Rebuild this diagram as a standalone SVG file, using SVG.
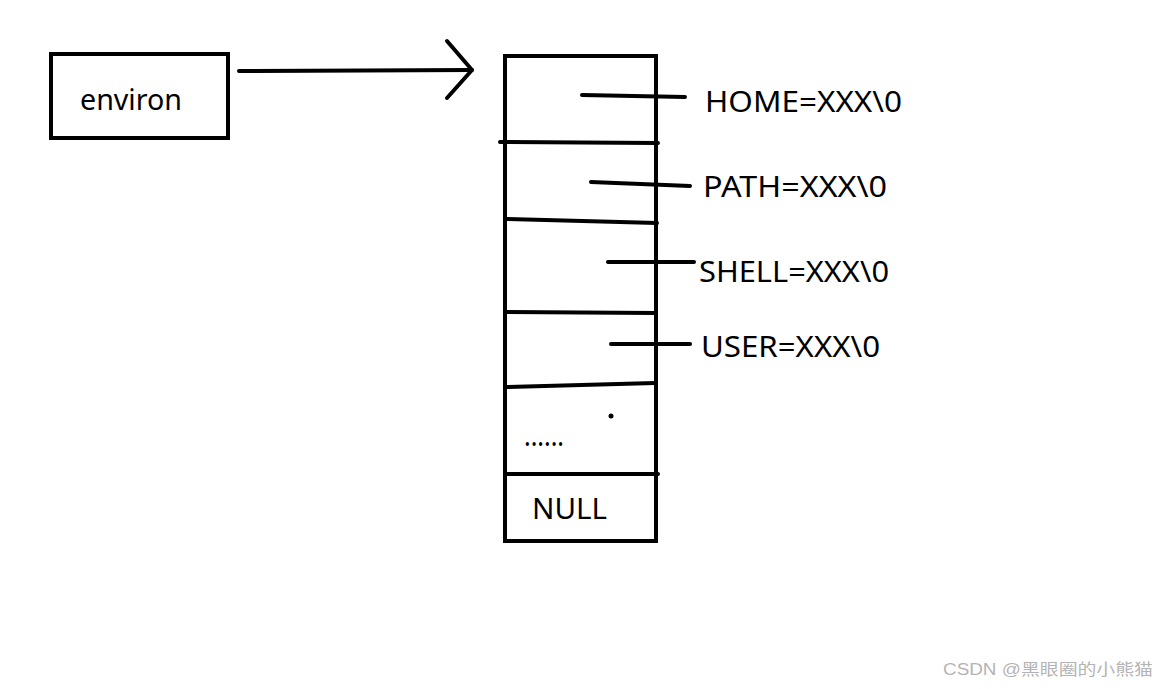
<svg xmlns="http://www.w3.org/2000/svg" width="1169" height="689" viewBox="0 0 1169 689">
<style>
.ln{stroke:#000;stroke-width:4;fill:none;stroke-linecap:round;stroke-linejoin:round}
.bx{stroke:#000;stroke-width:4;fill:#fff}
.t{font-family:"Noto Sans","Open Sans","Liberation Sans",sans-serif;font-size:29px;fill:#000}
.wm{font-family:"Liberation Sans","Noto Sans CJK SC",sans-serif;font-size:16px;fill:#b4b4b4}
</style>
<rect width="1169" height="689" fill="#fff"/>
<g id="environ">
<rect class="bx" x="51" y="54" width="177" height="84"/>
<text class="t" x="80" y="110" textLength="102" lengthAdjust="spacingAndGlyphs">environ</text>
</g>
<g id="array">
<rect class="bx" x="505" y="56" width="151" height="485"/>
<path class="ln" d="M500 142 L658 143"/>
<path class="ln" d="M506 219 L657 223"/>
<path class="ln" d="M506 312 L656 313"/>
<path class="ln" d="M506 387 L655 383"/>
<path class="ln" d="M506 474 L658 474"/>
<circle cx="611" cy="416" r="2.5" fill="#000"/>
<text class="t" x="524" y="446" font-size="20" textLength="40" lengthAdjust="spacingAndGlyphs">......</text>
<text class="t" x="532" y="519" textLength="75" lengthAdjust="spacingAndGlyphs">NULL</text>
</g>
<g id="connectors">
<path class="ln" d="M239 71 L472 70"/>
<path class="ln" d="M447 41 L472 70 L447 98"/>
<path class="ln" d="M582 95 L685 97"/>
<path class="ln" d="M591 182 L690 186"/>
<path class="ln" d="M608 262 L694 262"/>
<path class="ln" d="M611 344 L690 344"/>
</g>
<g id="labels">
<text class="t" x="705" y="112" textLength="197" lengthAdjust="spacingAndGlyphs">HOME=XXX\0</text>
<text class="t" x="703" y="197" textLength="184" lengthAdjust="spacingAndGlyphs">PATH=XXX\0</text>
<text class="t" x="699" y="282" textLength="190" lengthAdjust="spacingAndGlyphs">SHELL=XXX\0</text>
<text class="t" x="701" y="357" textLength="179" lengthAdjust="spacingAndGlyphs">USER=XXX\0</text>
</g>
<text class="wm" x="943" y="675" textLength="210" lengthAdjust="spacingAndGlyphs">CSDN @黑眼圈的小熊猫</text>
</svg>
